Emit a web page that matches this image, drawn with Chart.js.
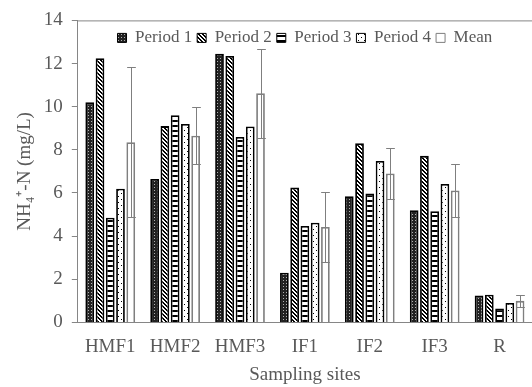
<!DOCTYPE html>
<html>
<head>
<meta charset="utf-8">
<script src="https://cdn.jsdelivr.net/npm/chart.js@4.4.1/dist/chart.umd.min.js"></script>
<style>
  body { margin: 0; background: #fff; }
  #wrap { width: 532px; height: 387px; }
</style>
</head>
<body>
<div id="wrap"><canvas id="nh4Chart"></canvas></div>
<script>
const sites = ["HMF1", "HMF2", "HMF3", "IF1", "IF2", "IF3", "R"];
const period1 = [10.2, 6.65, 12.45, 2.3, 5.85, 5.2, 1.25];
const period2 = [12.25, 9.1, 12.35, 6.25, 8.3, 7.72, 1.28];
const period3 = [4.85, 9.6, 8.6, 4.47, 5.97, 5.15, 0.65];
const period4 = [6.2, 9.2, 9.08, 4.62, 7.48, 6.42, 0.9];
const meanVals = [8.35, 8.65, 10.62, 4.42, 6.9, 6.12, 1.0];
const meanSd = [3.47, 1.32, 2.05, 1.62, 1.17, 1.24, 0.29];
const yTicks = [0, 2, 4, 6, 8, 10, 12, 14];

const serif = "'Liberation Serif', 'Times New Roman', serif";
const textGray = "#595959";
const axisGray = "#868686";

// small tiles used as bar fills
function makePattern(size, draw) {
  const c = document.createElement("canvas");
  c.width = size;
  c.height = size;
  const g = c.getContext("2d");
  g.fillStyle = "#fff";
  g.fillRect(0, 0, size, size);
  draw(g);
  return g.createPattern(c, "repeat");
}

const denseFill = makePattern(3, (g) => {
  g.fillStyle = "#222";
  g.fillRect(0, 0, 3, 3);
  g.fillStyle = "#b0b0b0";
  g.fillRect(1, 1, 1, 1);
});

const diagFill = makePattern(4, (g) => {
  g.fillStyle = "#000";
  for (let i = 0; i < 4; i++) {
    g.fillRect(i, i, 1, 1);
    g.fillRect((i + 1) % 4, i, 1, 1);
  }
});

const stripeFill = makePattern(5, (g) => {
  g.fillStyle = "#000";
  g.fillRect(0, 0, 5, 2);
});

const dotFill = makePattern(6, (g) => {
  g.fillStyle = "#000";
  g.fillRect(1, 1, 1, 1);
  g.fillRect(4, 4, 1, 1);
});

// legend sits inside the plot, so it should not take layout space
const legendInside = {
  id: "legendInside",
  beforeLayout(chart) {
    const lg = chart.legend;
    if (lg && !lg._flat) {
      const fit = lg.fit;
      lg.fit = function () {
        fit.call(this);
        this._realHeight = this.height;
        this.height = 0;
      };
      lg._flat = true;
    }
  },
  afterLayout(chart) {
    const lg = chart.legend;
    if (lg && lg._realHeight) {
      lg.top += 4;
      lg.height = lg._realHeight;
      lg.bottom = lg.top + lg._realHeight;
    }
  },
};

const plotFrame = {
  id: "plotFrame",
  afterDraw(chart) {
    const { ctx, chartArea } = chart;
    ctx.save();
    ctx.strokeStyle = axisGray;
    ctx.lineWidth = 1;
    ctx.beginPath();
    ctx.moveTo(chartArea.left, chartArea.top + 0.5);
    ctx.lineTo(chartArea.right, chartArea.top + 0.5);
    ctx.stroke();
    ctx.restore();
  },
};

const errorBars = {
  id: "errorBars",
  afterDatasetsDraw(chart) {
    const { ctx } = chart;
    const y = chart.scales.y;
    const meta = chart.getDatasetMeta(4);
    ctx.save();
    ctx.strokeStyle = "#7f7f7f";
    ctx.lineWidth = 1;
    meta.data.forEach((bar, i) => {
      const x = Math.round(bar.x) + 0.5;
      const top = Math.round(y.getPixelForValue(meanVals[i] + meanSd[i])) + 0.5;
      const bot = Math.round(y.getPixelForValue(meanVals[i] - meanSd[i])) + 0.5;
      const half = bar.width / 2;
      ctx.beginPath();
      ctx.moveTo(x, top);
      ctx.lineTo(x, bot);
      ctx.moveTo(x - half, top);
      ctx.lineTo(x + half, top);
      ctx.moveTo(x - half, bot);
      ctx.lineTo(x + half, bot);
      ctx.stroke();
    });
    ctx.restore();
  },
};

function barSet(label, data, fill, border) {
  return {
    label,
    data,
    backgroundColor: fill,
    borderColor: border,
    borderWidth: 1.8,
    categoryPercentage: 0.79,
    barPercentage: 0.85,
  };
}

const ctx = document.getElementById("nh4Chart").getContext("2d");

new Chart(ctx, {
  type: "bar",
  data: {
    labels: sites,
    datasets: [
      barSet("Period 1", period1, denseFill, "#000"),
      barSet("Period 2", period2, diagFill, "#000"),
      barSet("Period 3", period3, stripeFill, "#000"),
      barSet("Period 4", period4, dotFill, "#000"),
      barSet("Mean", meanVals, "#fff", "#7f7f7f"),
    ],
  },
  options: {
    responsive: true,
    maintainAspectRatio: false,
    animation: false,
    layout: {
      padding: { top: 20, left: 8, right: 0, bottom: 1 },
    },
    plugins: {
      tooltip: { enabled: false },
      legend: {
        position: "top",
        fullSize: false,
        labels: {
          boxWidth: 9,
          boxHeight: 9,
          padding: 5,
          color: textGray,
          font: { family: serif, size: 17 },
          generateLabels(chart) {
            const items = Chart.defaults.plugins.legend.labels.generateLabels(chart);
            items.forEach((it) => (it.lineWidth = 1));
            return items;
          },
        },
      },
    },
    scales: {
      x: {
        grid: { display: false, tickLength: 9 },
        border: { display: true, color: axisGray, width: 1 },
        ticks: {
          color: textGray,
          padding: 4.5,
          maxRotation: 0,
          font: { family: serif, size: 19 },
        },
        title: {
          display: true,
          text: "Sampling sites",
          color: textGray,
          padding: { top: 0, bottom: 0 },
          font: { family: serif, size: 19 },
        },
      },
      y: {
        min: 0,
        max: 14,
        afterBuildTicks(scale) {
          scale.ticks = yTicks.map((v) => ({ value: v }));
        },
        grid: {
          drawOnChartArea: false,
          drawTicks: true,
          tickLength: 6,
          color: axisGray,
        },
        border: { display: true, color: axisGray, width: 1 },
        ticks: {
          color: textGray,
          padding: 9,
          font: { family: serif, size: 19 },
        },
        title: {
          display: true,
          text: "NH₄⁺-N (mg/L)",
          color: textGray,
          padding: { top: 6, bottom: -2 },
          font: { family: serif, size: 19 },
        },
      },
    },
  },
  plugins: [legendInside, plotFrame, errorBars],
});
</script>
</body>
</html>
